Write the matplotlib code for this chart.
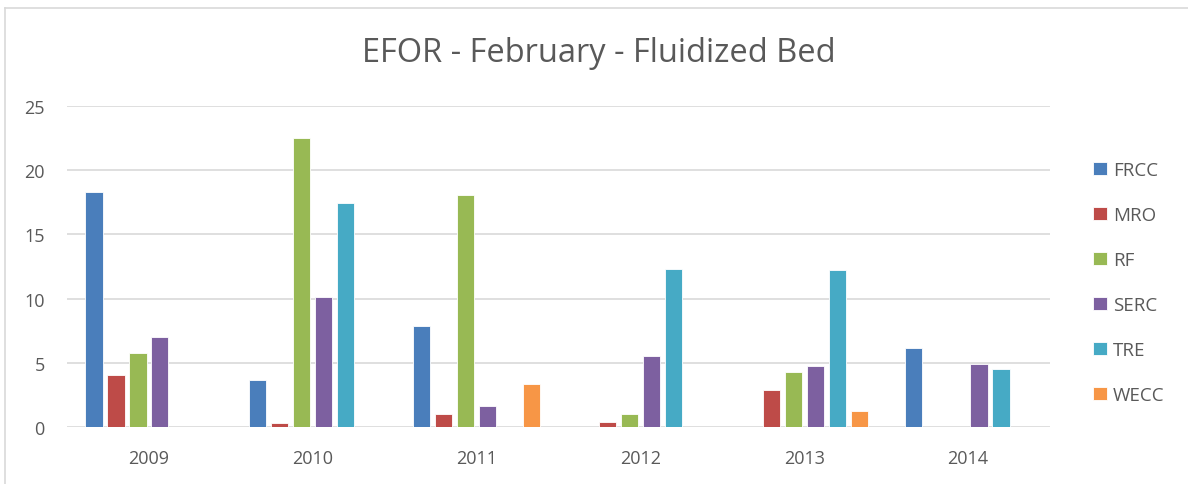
import numpy as np
import matplotlib
matplotlib.use("Agg")
import matplotlib.pyplot as plt
from matplotlib.lines import Line2D

# 数据
years = ["2009", "2010", "2011", "2012", "2013", "2014"]
regions = ["FRCC", "MRO", "RF", "SERC", "TRE", "WECC"]
frcc = [18.3, 3.64, 7.87, 0, 0, 6.13]
mro = [4.03, 0.29, 1.04, 0.42, 2.91, 0]
rf = [5.76, 22.5, 18.07, 1.04, 4.26, 0]
serc = [7.0, 10.1, 1.67, 5.5, 4.78, 4.88]
tre = [0, 17.45, 0, 12.34, 12.23, 4.52]
wecc = [0, 0, 3.38, 0, 1.28, 0]
colors = ["#4A7EBB", "#BE4B48", "#98B954", "#7D60A0", "#46AAC5", "#F79646"]

series = [frcc, mro, rf, serc, tre, wecc]
text_color = "#595959"
plt.rcParams['font.family'] = ['Open Sans', 'DejaVu Sans']

fig = plt.figure(figsize=(11.88, 4.85), dpi=100)
ax = fig.add_axes([67 / 1188, 1 - 428 / 485, (1050 - 67) / 1188, (428 - 107) / 485])

x = np.arange(len(years))
step = 0.134
width = 0.105
for i, (name, vals) in enumerate(zip(regions, series)):
    offs = (i - 2.5) * step
    ax.bar(x + offs, vals, width, color=colors[i], label=name,
           edgecolor="white", linewidth=0.6, zorder=3)

ax.set_xlim(-0.5, len(years) - 0.5)
ax.set_ylim(0, 25)
ax.set_yticks(range(0, 26, 5))
ax.set_xticks(x)
ax.set_xticklabels(years)
ax.grid(axis="y", color="#D9D9D9", linewidth=1.2, zorder=0)
for s in ax.spines.values():
    s.set_visible(False)
ax.tick_params(axis="both", length=0, labelsize=13, colors=text_color)
ax.tick_params(axis="x", pad=16)
ax.tick_params(axis="y", pad=16)

fig.text(599 / 1188, 1 - 53 / 485, "EFOR - February - Fluidized Bed",
         ha="center", va="center", fontsize=23.5, color=text_color)

leg = ax.legend(loc="upper left", bbox_to_anchor=(1084 / 1188, 1 - 153 / 485),
                bbox_transform=fig.transFigure, frameon=False, fontsize=13.5,
                handlelength=0.7, handleheight=0.7, handletextpad=0.35,
                labelspacing=1.44, borderpad=0)
for t in leg.get_texts():
    t.set_color(text_color)

# 图表边框
fig.add_artist(Line2D([5 / 1188, 1], [1 - 9 / 485] * 2, transform=fig.transFigure,
                      color="#D9D9D9", linewidth=1.2))
fig.add_artist(Line2D([5 / 1188] * 2, [0, 1 - 9 / 485], transform=fig.transFigure,
                      color="#D9D9D9", linewidth=1.2))

fig.savefig("out.png", dpi=100, facecolor="white")
